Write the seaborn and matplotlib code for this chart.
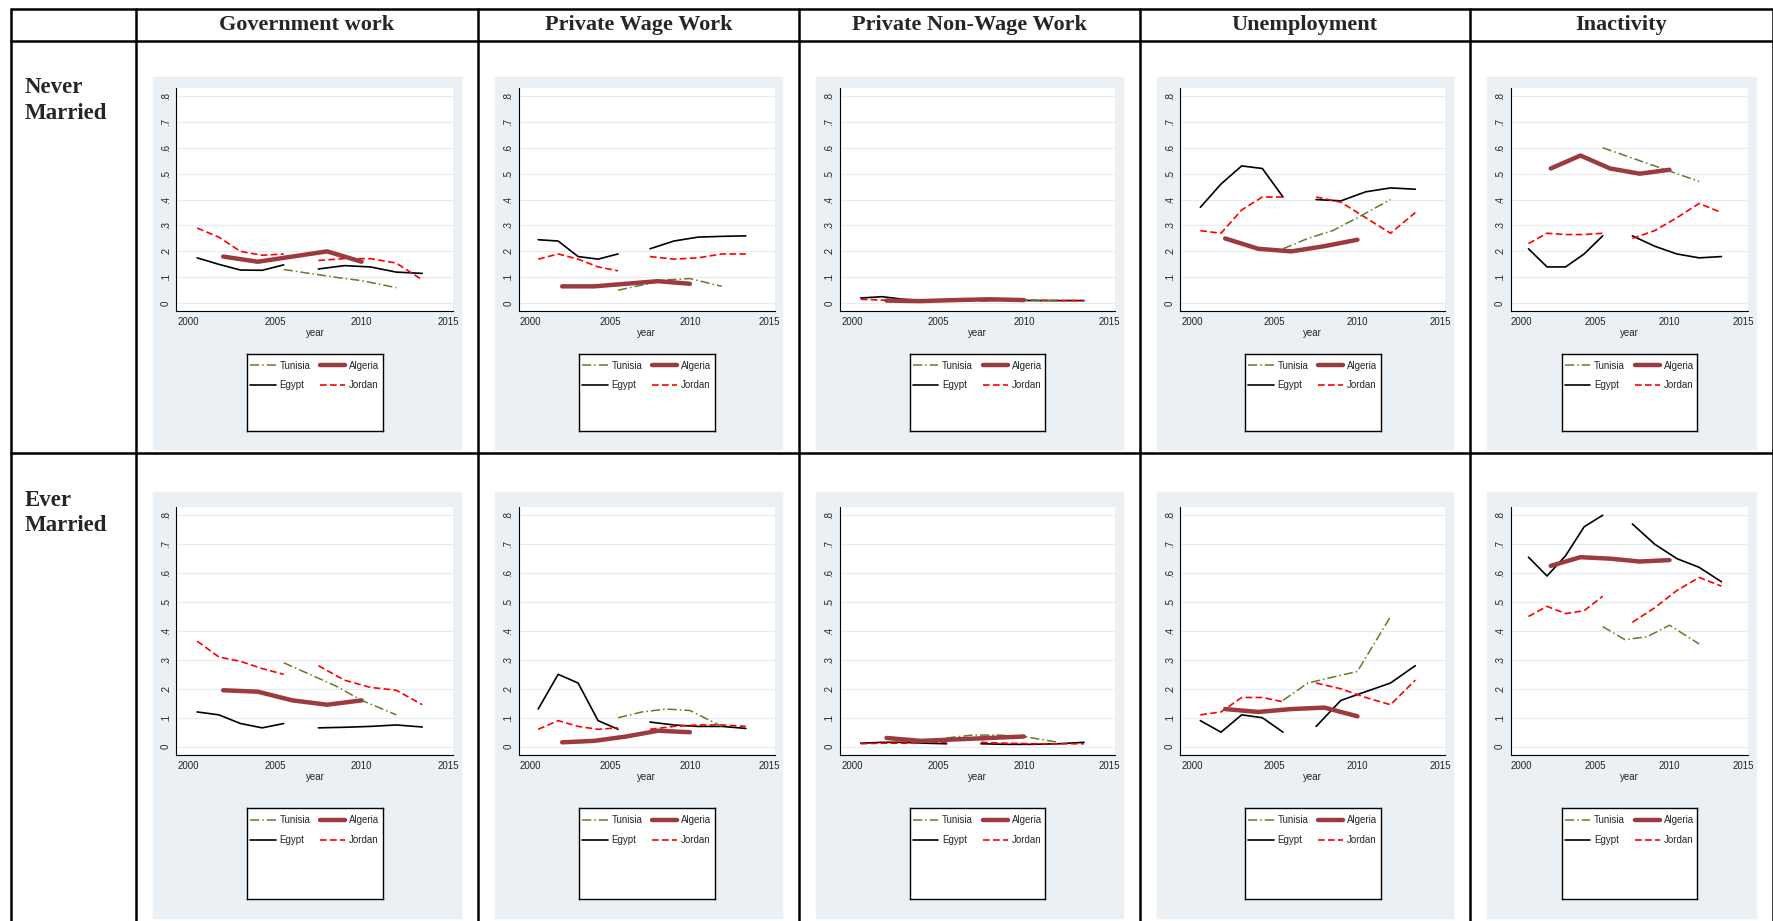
import numpy as np
import matplotlib
matplotlib.use("Agg")
import matplotlib.pyplot as plt
from matplotlib.lines import Line2D
from matplotlib.patches import Rectangle
import seaborn as sns

sns.set_style("white")
plt.rcParams['font.family'] = ['Liberation Sans', 'DejaVu Sans']

headers = ["Government work", "Private Wage Work", "Private Non-Wage Work", "Unemployment", "Inactivity"]
row_labels = ["Never\nMarried", "Ever\nMarried"]

# x positions of the smoothed segments
x_early = [2000.5, 2001.75, 2003, 2004.25, 2005.5]
x_late = [2007.5, 2009, 2010.5, 2012, 2013.5]
x_tun = [2005.5, 2007, 2008.5, 2010, 2012]
x_alg = [2002, 2004, 2006, 2008, 2010]

# values per panel: (egypt early, egypt late, jordan early, jordan late, tunisia, algeria)
nm_gov = ([.175, .15, .128, .127, .148], [.132, .145, .14, .12, .115],
          [.29, .255, .2, .185, .19], [.165, .172, .172, .155, .09],
          [.13, .115, .1, .087, .06], [.18, .16, .18, .2, .16])
nm_pww = ([.245, .24, .18, .17, .19], [.21, .24, .255, .258, .26],
          [.17, .19, .17, .14, .125], [.18, .17, .175, .19, .19],
          [.05, .07, .09, .095, .065], [.065, .065, .075, .085, .075])
nm_pnw = ([.02, .025, .015, .01, .008], [.01, .012, .01, .01, .01],
          [.015, .012, .01, .008, .008], [.01, .012, .012, .01, .01],
          [.012, .015, .015, .012, .01], [.01, .008, .012, .015, .012])
nm_une = ([.37, .46, .53, .52, .41], [.4, .395, .43, .445, .44],
          [.28, .27, .36, .41, .41], [.41, .39, .33, .27, .35],
          [.21, .25, .28, .33, .40], [.25, .21, .2, .22, .245])
nm_ina = ([.21, .14, .14, .19, .26], [.26, .22, .19, .175, .18],
          [.23, .27, .265, .265, .27], [.25, .28, .33, .385, .35],
          [.60, .57, .54, .51, .47], [.52, .57, .52, .50, .515])
em_gov = ([.12, .11, .08, .065, .08], [.065, .067, .07, .075, .068],
          [.365, .31, .295, .27, .25], [.28, .23, .205, .195, .145],
          [.29, .25, .21, .16, .11], [.195, .19, .16, .145, .16])
em_pww = ([.13, .25, .22, .09, .06], [.085, .075, .07, .07, .063],
          [.06, .09, .07, .06, .065], [.06, .07, .075, .075, .07],
          [.1, .12, .13, .125, .07], [.015, .02, .035, .055, .05])
em_pnw = ([.012, .015, .015, .012, .01], [.01, .008, .008, .01, .015],
          [.01, .012, .012, .015, .015], [.015, .012, .01, .01, .01],
          [.03, .04, .04, .035, .015], [.03, .02, .025, .03, .035])
em_une = ([.09, .05, .11, .10, .05], [.07, .16, .19, .22, .28],
          [.11, .12, .17, .17, .155], [.22, .2, .17, .145, .23],
          [.16, .22, .24, .26, .45], [.13, .12, .13, .135, .105])
em_ina = ([.655, .59, .66, .76, .8], [.77, .7, .65, .62, .57],
          [.45, .485, .46, .47, .52], [.43, .48, .54, .585, .555],
          [.415, .37, .38, .42, .355], [.625, .655, .65, .64, .645])
panels = [[nm_gov, nm_pww, nm_pnw, nm_une, nm_ina],
          [em_gov, em_pww, em_pnw, em_une, em_ina]]

W, H = 1773, 921
S = 1773 / 1568.0
fig = plt.figure(figsize=(W / 100, H / 100), dpi=100)


def fx(x):
    return x * S / W


def fy(y):
    return 1 - y * S / H


def rect(x0, y0, x1, y1):
    return [fx(x0), fy(y1), fx(x1) - fx(x0), fy(y0) - fy(y1)]


# table grid
cols = [10, 120, 423, 707, 1008, 1300, 1568]
for c in cols:
    fig.add_artist(Line2D([fx(c), fx(c)], [fy(8), fy(820)], color="black", lw=1.8))
for r in [8, 36, 401]:
    fig.add_artist(Line2D([fx(10), fx(1568)], [fy(r), fy(r)], color="black", lw=1.8))
for i, h in enumerate(headers):
    fig.text(fx((cols[i + 1] + cols[i + 2]) / 2), fy(22), h, ha="center", va="center",
             fontsize=16, fontweight="bold", family="Liberation Serif")
fig.text(fx(22), fy(68), row_labels[0], ha="left", va="top", fontsize=16.5,
         fontweight="bold", family="Liberation Serif", linespacing=1.3)
fig.text(fx(22), fy(433), row_labels[1], ha="left", va="top", fontsize=16.5,
         fontweight="bold", family="Liberation Serif", linespacing=1.3)

styles = {
    "Tunisia": dict(color="#5b7f2a", lw=1.1, ls=(0, (6, 2, 1, 2))),
    "Algeria": dict(color="#9b3b3f", lw=3.2, ls="-"),
    "Egypt": dict(color="black", lw=1.2, ls="-"),
    "Jordan": dict(color="red", lw=1.2, ls=(0, (4, 2))),
}
row_geo = [dict(gray=(68, 397), ax=(78, 275), leg=(313, 381)),
           dict(gray=(435, 812), ax=(448, 668), leg=(715, 795))]

for r in range(2):
    g = row_geo[r]
    for c in range(5):
        L, R = cols[c + 1], cols[c + 2]
        fig.add_artist(Rectangle((fx(L + 15), fy(g["gray"][1])), fx(R - 15) - fx(L + 15),
                                 fy(g["gray"][0]) - fy(g["gray"][1]),
                                 transform=fig.transFigure, color="#eaf0f3", zorder=0))
        ax = fig.add_axes(rect(L + 36, g["ax"][0], R - 22, g["ax"][1]))
        eg1, eg2, jo1, jo2, tu, al = panels[r][c]
        series = [("Egypt", x_early, eg1), ("Egypt", x_late, eg2),
                  ("Jordan", x_early, jo1), ("Jordan", x_late, jo2),
                  ("Tunisia", x_tun, tu), ("Algeria", x_alg, al)]
        for name, xs, ys in series:
            st = styles[name]
            sns.lineplot(x=xs, y=ys, ax=ax, color=st["color"], linewidth=st["lw"],
                         linestyle=st["ls"])
        ax.set_xlim(1999.3, 2015.3)
        ax.set_ylim(-0.03, 0.83)
        ax.set_xticks([2000, 2005, 2010, 2015])
        ax.set_yticks(np.arange(0, 0.81, 0.1))
        ax.set_yticklabels(["0", ".1", ".2", ".3", ".4", ".5", ".6", ".7", ".8"],
                           rotation=90, va="center")
        ax.tick_params(labelsize=7, length=3, pad=1)
        ax.grid(axis="y", color="#e6ecef", lw=0.8)
        for s in ["top", "right"]:
            ax.spines[s].set_visible(False)
        for s in ["left", "bottom"]:
            ax.spines[s].set_color("black")
            ax.spines[s].set_linewidth(0.8)
        ax.set_xlabel("year", fontsize=7, labelpad=1)
        # legend box
        cx = (L + 36 + R - 22) / 2
        lax = fig.add_axes(rect(cx - 60, g["leg"][0], cx + 60, g["leg"][1]))
        lax.set_xticks([])
        lax.set_yticks([])
        for s in lax.spines.values():
            s.set_color("black")
            s.set_linewidth(1)
        handles = [Line2D([], [], color=styles[n]["color"], lw=styles[n]["lw"],
                          ls=styles[n]["ls"]) for n in ["Tunisia", "Egypt", "Algeria", "Jordan"]]
        lax.legend(handles, ["Tunisia", "Egypt", "Algeria", "Jordan"], ncol=2,
                   loc="upper center", frameon=False, fontsize=7, handlelength=2.6,
                   columnspacing=1.0, labelspacing=1.0, borderaxespad=0.3,
                   handletextpad=0.4)

fig.savefig("out.png", dpi=100)
